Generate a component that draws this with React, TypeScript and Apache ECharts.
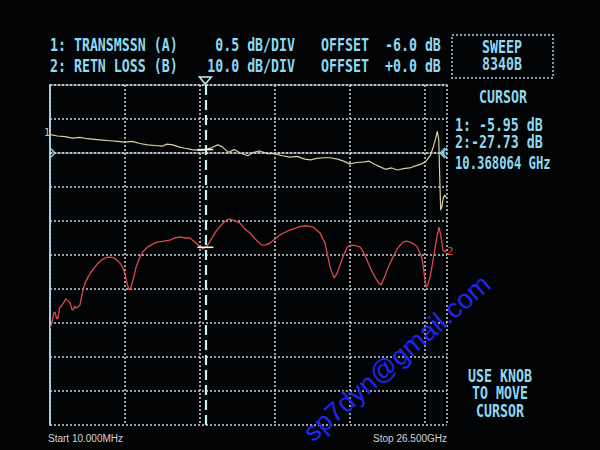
import React, { useEffect, useRef } from "react";
import * as echarts from "echarts";

// Trace 1: TRANSMSSN (A), frequency GHz / dB
const T1_FREQ = [0.01, 0.5, 1.0, 1.5, 2.0, 2.5, 3.0, 3.5, 4.0, 4.5, 5.0, 5.5, 6.0, 6.5, 7.0, 7.5, 7.8, 8.2, 8.6, 9.0, 9.5, 10.0, 10.4, 10.8, 11.2, 11.5, 11.9, 12.3, 12.7, 13.2, 13.6, 14.0, 14.5, 15.0, 15.5, 16.0, 16.5, 17.0, 17.4, 17.8, 18.3, 18.7, 19.2, 19.6, 20.0, 20.5, 21.0, 21.3, 21.7, 22.0, 22.4, 22.8, 23.2, 23.6, 24.0, 24.4, 24.8, 25.1, 25.4, 25.6, 25.75, 25.85, 25.95, 26.02, 26.08, 26.15, 26.25, 26.35, 26.45];
const T1_DB = [-5.73, -5.75, -5.76, -5.78, -5.77, -5.79, -5.8, -5.81, -5.82, -5.83, -5.84, -5.83, -5.86, -5.88, -5.89, -5.9, -5.87, -5.88, -5.91, -5.93, -5.95, -5.96, -5.95, -5.92, -5.88, -5.91, -5.99, -5.95, -6.0, -6.04, -5.99, -5.97, -6.01, -6.01, -6.04, -6.06, -6.05, -6.09, -6.1, -6.08, -6.07, -6.07, -6.09, -6.12, -6.16, -6.14, -6.13, -6.12, -6.17, -6.2, -6.24, -6.22, -6.25, -6.23, -6.22, -6.19, -6.16, -6.12, -6.03, -5.9, -5.78, -5.68, -5.8, -6.4, -6.84, -6.8, -6.66, -6.62, -6.65];

// Trace 2: RETN LOSS (B), frequency GHz / dB
const T2_FREQ = [0.01, 0.13, 0.25, 0.33, 0.45, 0.53, 0.65, 0.8, 0.95, 1.07, 1.2, 1.34, 1.45, 1.54, 1.65, 1.74, 1.87, 2.0, 2.1, 2.2, 2.35, 2.54, 2.75, 3.0, 3.25, 3.54, 3.8, 4.0, 4.25, 4.47, 4.7, 4.87, 5.0, 5.14, 5.27, 5.4, 5.54, 5.75, 6.0, 6.25, 6.54, 6.85, 7.14, 7.5, 8.01, 8.3, 8.68, 9.0, 9.35, 9.7, 10.01, 10.21, 10.37, 10.48, 10.75, 11.01, 11.3, 11.55, 11.8, 12.02, 12.35, 12.68, 13.0, 13.35, 13.75, 14.15, 14.4, 14.69, 15.0, 15.35, 15.7, 16.02, 16.35, 16.69, 17.15, 17.56, 18.02, 18.36, 18.69, 18.96, 19.15, 19.36, 19.6, 19.82, 20.0, 20.23, 20.45, 20.69, 20.9, 21.16, 21.4, 21.69, 21.9, 22.09, 22.3, 22.56, 22.8, 23.03, 23.3, 23.56, 23.8, 24.03, 24.3, 24.5, 24.7, 24.83, 24.95, 25.05, 25.1, 25.2, 25.37, 25.57, 25.7, 25.83, 25.97, 26.05, 26.1, 26.23, 26.37, 26.45];
const T2_DB = [-51.5, -50.0, -47.0, -46.8, -48.8, -48.5, -45.5, -44.7, -43.8, -42.9, -43.5, -44.1, -45.8, -46.2, -45.0, -45.6, -45.2, -44.7, -42.5, -40.3, -38.2, -36.5, -35.0, -33.5, -32.2, -31.2, -30.7, -30.6, -30.8, -31.5, -32.5, -33.8, -35.5, -38.2, -40.3, -39.5, -37.4, -33.5, -30.6, -28.8, -27.6, -26.8, -26.2, -26.0, -25.6, -25.0, -24.7, -25.0, -25.0, -26.3, -27.6, -28.2, -27.73, -27.4, -25.5, -23.5, -21.8, -20.6, -19.7, -19.4, -20.0, -20.6, -22.3, -23.5, -25.5, -27.1, -27.0, -26.5, -25.4, -24.1, -23.3, -22.6, -22.2, -21.6, -21.4, -21.8, -23.5, -26.5, -33.5, -36.8, -35.5, -32.9, -30.0, -27.9, -27.2, -27.1, -27.3, -27.6, -29.0, -31.5, -34.0, -36.5, -38.0, -38.8, -36.8, -33.8, -31.5, -29.4, -27.5, -26.2, -25.9, -26.2, -26.8, -27.6, -29.5, -30.9, -34.5, -38.0, -39.4, -39.0, -36.5, -31.5, -28.0, -24.7, -21.8, -23.5, -24.7, -28.5, -29.1, -28.6];

const CURSOR_GHZ = 10.368064;
const CURSOR_T1 = -5.95;
const CURSOR_T2 = -27.73;
const T1_REF = -6.0;

const HEADER_ROW1 = ["1: TRANSMSSN (A)", "0.5 dB/DIV", "OFFSET", "-6.0 dB"];
const HEADER_ROW2 = ["2: RETN LOSS (B)", "10.0 dB/DIV", "OFFSET", "+0.0 dB"];
const SWEEP_LINES = ["SWEEP", "8340B"];
const CURSOR_LINES = ["1: -5.95 dB", "2:-27.73 dB", "10.368064 GHz"];
const KNOB_LINES = ["USE KNOB", "TO MOVE", "CURSOR"];
const START_LABEL = "Start 10.000MHz";
const STOP_LABEL = "Stop 26.500GHz";
const WATERMARK = "sp7dyn@gmail.com";

const CYAN = "#90d8f0";
const GRID = "#c8d2dc";
const T1_COLOR = "#d8cfa2";
const T2_COLOR = "#dc4a4a";
const FONT = 'bold 17px "DejaVu Sans Mono"';

function txt(text: string, x: number, y: number, align: string, opts: any = {}) {
  return {
    type: "text",
    x,
    y,
    scaleX: opts.scaleX ?? 0.78,
    rotation: opts.rotation ?? 0,
    silent: true,
    z: 100,
    style: {
      text,
      fill: opts.fill ?? CYAN,
      font: opts.font ?? FONT,
      align,
      textAlign: align,
      verticalAlign: "middle",
      textVerticalAlign: "middle",
    },
  };
}

export default function App() {
  const ref = useRef<HTMLDivElement>(null);
  useEffect(() => {
    if (!ref.current) return;
    const chart = echarts.init(ref.current, null, { renderer: "svg" });
    const dotted = { color: GRID, width: 1.5, type: [2, 2] as any };
    chart.setOption({
      animation: false,
      backgroundColor: "#020305",
      grid: { left: 50, right: 153, top: 85, bottom: 25 },
      xAxis: [
        {
          type: "value", min: 0, max: 26.5, interval: 5, position: "bottom",
          axisLine: { show: true, lineStyle: dotted },
          axisTick: { show: false }, axisLabel: { show: false },
          splitLine: { show: true, lineStyle: dotted },
        },
        {
          type: "value", min: 0, max: 26.5, interval: 5, position: "top",
          axisLine: { show: true, lineStyle: dotted },
          axisTick: { show: false }, axisLabel: { show: false },
          splitLine: { show: false },
        },
      ],
      yAxis: [
        {
          type: "value", min: -10, max: -5, interval: 0.5, position: "left",
          axisLine: { show: true, lineStyle: { color: "#a8d4ec", width: 1.5 } },
          axisTick: { show: false }, axisLabel: { show: false },
          splitLine: { show: true, lineStyle: dotted },
        },
        {
          type: "value", min: -80, max: 20, interval: 10, position: "right",
          axisLine: { show: true, lineStyle: { color: "#a8d4ec", width: 1.5 } },
          axisTick: { show: false }, axisLabel: { show: false },
          splitLine: { show: false },
        },
      ],
      series: [
        {
          type: "line", xAxisIndex: 0, yAxisIndex: 0, showSymbol: false,
          data: T1_FREQ.map((f, i) => [f, T1_DB[i]]),
          lineStyle: { color: T1_COLOR, width: 1.2 }, z: 5,
        },
        {
          type: "line", xAxisIndex: 0, yAxisIndex: 1, showSymbol: false,
          data: T2_FREQ.map((f, i) => [f, T2_DB[i]]),
          lineStyle: { color: T2_COLOR, width: 1.3 }, z: 5,
          markLine: {
            silent: true, symbol: "none", label: { show: false },
            lineStyle: { color: "#c8f2f2", width: 2.2, type: [10, 5] as any },
            data: [{ xAxis: CURSOR_GHZ }],
          },
        },
      ],
    });

    const p1 = chart.convertToPixel({ xAxisIndex: 0, yAxisIndex: 0 }, [CURSOR_GHZ, CURSOR_T1]) as number[];
    const p2 = chart.convertToPixel({ xAxisIndex: 0, yAxisIndex: 1 }, [CURSOR_GHZ, CURSOR_T2]) as number[];
    const pr = chart.convertToPixel({ xAxisIndex: 0, yAxisIndex: 0 }, [0, T1_REF]) as number[];
    const pe = chart.convertToPixel({ xAxisIndex: 0, yAxisIndex: 0 }, [26.5, T1_DB[0]]) as number[];
    const ps = chart.convertToPixel({ xAxisIndex: 0, yAxisIndex: 0 }, [0, T1_DB[0]]) as number[];
    const p2e = chart.convertToPixel({ xAxisIndex: 0, yAxisIndex: 1 }, [26.5, T2_DB[T2_DB.length - 1]]) as number[];
    const top = 85;
    const markStroke = { stroke: "#eef8f8", lineWidth: 1.6 };

    const graphics: any[] = [];
    const cols = [50, 295, 321, 385];
    const aligns = ["left", "right", "left", "left"];
    HEADER_ROW1.forEach((t, i) => graphics.push(txt(t, cols[i], 45, aligns[i])));
    HEADER_ROW2.forEach((t, i) => graphics.push(txt(t, cols[i], 66, aligns[i])));
    graphics.push({
      type: "rect", silent: true, shape: { x: 452, y: 35, width: 101, height: 43 },
      style: { fill: "none", stroke: "#b0ccd8", lineWidth: 1.5, lineDash: [2, 2] },
    });
    graphics.push(txt(SWEEP_LINES[0], 502, 47, "center"));
    graphics.push(txt(SWEEP_LINES[1], 502, 64, "center"));
    graphics.push(txt("CURSOR", 503, 97, "center"));
    graphics.push(txt(CURSOR_LINES[0], 455, 125, "left"));
    graphics.push(txt(CURSOR_LINES[1], 455, 142, "left"));
    graphics.push(txt(CURSOR_LINES[2], 455, 163, "left", { scaleX: 0.72 }));
    KNOB_LINES.forEach((t, i) => graphics.push(txt(t, 500, 376 + i * 17.5, "center")));
    graphics.push(txt(START_LABEL, 48, 438, "left", { scaleX: 1, fill: "#d4d4d4", font: '10px "Liberation Sans"' }));
    graphics.push(txt(STOP_LABEL, 447, 438, "right", { scaleX: 1, fill: "#d4d4d4", font: '10px "Liberation Sans"' }));
    // trace labels
    graphics.push(txt("1", ps[0] - 3, ps[1] - 2, "center", { scaleX: 1, fill: T1_COLOR, font: '10px "DejaVu Sans Mono"' }));
    graphics.push(txt("2", p2e[0] + 3, p2e[1] + 1, "center", { scaleX: 1, fill: T2_COLOR, font: '11px "DejaVu Sans Mono"' }));
    // reference arrows
    graphics.push({
      type: "polyline", silent: true, z: 50,
      shape: { points: [[pr[0], pr[1] - 5], [pr[0] + 5, pr[1]], [pr[0], pr[1] + 5]] },
      style: { stroke: "#8fd0ee", lineWidth: 1.5, fill: "none" },
    });
    graphics.push({
      type: "polyline", silent: true, z: 50,
      shape: { points: [[pe[0], pr[1] - 5], [pe[0] - 5, pr[1]], [pe[0], pr[1] + 5]] },
      style: { stroke: "#8fd0ee", lineWidth: 1.5, fill: "none" },
    });
    graphics.push({
      type: "polyline", silent: true, z: 50,
      shape: { points: [[pe[0] - 2, pr[1] - 5], [pe[0] - 7, pr[1]], [pe[0] - 2, pr[1] + 5]] },
      style: { stroke: "#8fd0ee", lineWidth: 1.2, fill: "none" },
    });
    // cursor triangle
    graphics.push({
      type: "polygon", silent: true, z: 50,
      shape: { points: [[p1[0] - 6, top - 8], [p1[0] + 6, top - 8], [p1[0], top - 1]] },
      style: { stroke: "#c8f2f2", lineWidth: 1.5, fill: "none" },
    });
    // cursor crosses
    [p1, p2].forEach((p) => {
      graphics.push({
        type: "line", silent: true, z: 60,
        shape: { x1: p[0] - 8, y1: p[1], x2: p[0] + 8, y2: p[1] }, style: markStroke,
      });
    });
    // watermark
    graphics.push(txt(WATERMARK, 397, 358, "center", {
      scaleX: 1, rotation: (41 * Math.PI) / 180, fill: "#1c28f0", font: '27px "Liberation Sans"',
    }));
    chart.setOption({ graphic: graphics });
    return () => chart.dispose();
  }, []);
  return <div ref={ref} style={{ width: 600, height: 450, position: "absolute", left: 0, top: 0 }} />;
}
